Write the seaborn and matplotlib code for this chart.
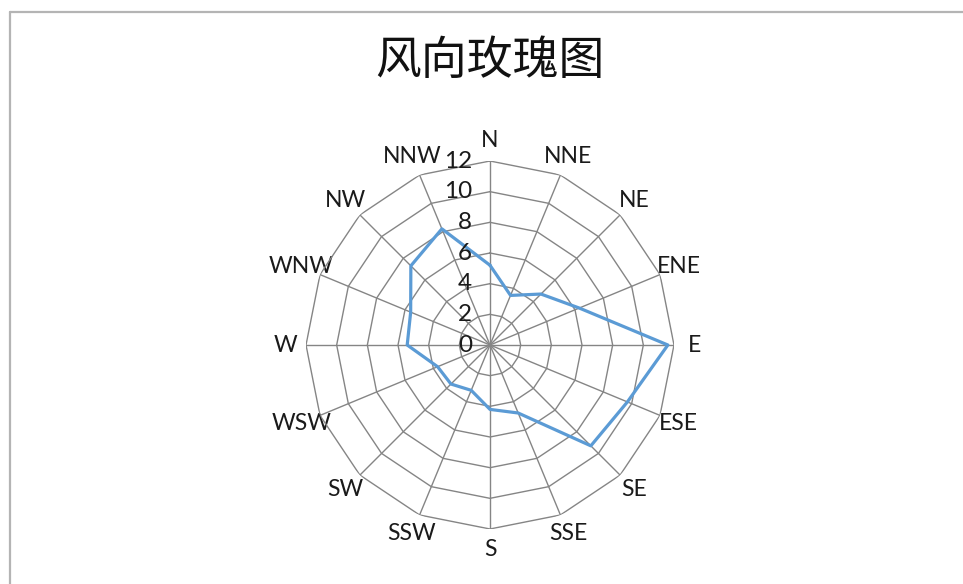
import numpy as np
import pandas as pd
import matplotlib
matplotlib.use("Agg")
import matplotlib.pyplot as plt
import seaborn as sns
from matplotlib.transforms import offset_copy
from matplotlib.lines import Line2D

# ---- data ----
directions = ['N', 'NNE', 'NE', 'ENE', 'E', 'ESE', 'SE', 'SSE',
              'S', 'SSW', 'SW', 'WSW', 'W', 'WNW', 'NW', 'NNW']
frequency = [5.2, 3.5, 4.7, 6.3, 11.6, 9.7, 9.3, 4.8,
             4.2, 3.2, 3.6, 3.7, 5.4, 5.6, 7.3, 8.2]
r_ticks = [0, 2, 4, 6, 8, 10, 12]
title = '风向玫瑰图'

sns.set_style('white')
plt.rcParams['font.family'] = ['Lato', 'Noto Sans CJK SC', 'DejaVu Sans']

W, H = 963, 584
fig = plt.figure(figsize=(W / 100, H / 100), dpi=100)
fig.patch.set_facecolor('white')

cx, cy, R = 490, 345, 184
ax = fig.add_axes([(cx - R) / W, (H - cy - R) / H, 2 * R / W, 2 * R / H],
                  projection='polar')
ax.set_facecolor('white')
ax.set_theta_zero_location('N')
ax.set_theta_direction(-1)

n = len(directions)
theta = np.deg2rad(np.arange(n) * 360.0 / n)
ax.set_ylim(0, max(r_ticks))
ax.set_xticks(theta)
ax.set_xticklabels(directions)
ax.set_yticks(r_ticks)
ax.set_yticklabels([])
ax.yaxis.grid(False)
ax.xaxis.grid(True, color='#858585', lw=1.0)
ax.spines['polar'].set_visible(False)
ax.tick_params(axis='x', pad=4, labelsize=16.5, colors='#1a1a1a')

grid_theta = np.append(theta, theta[0])
for r in r_ticks[1:]:
    ax.plot(grid_theta, [r] * (n + 1), color='#858585', lw=1.0, zorder=1)

df = pd.DataFrame({'theta': np.append(theta, 2 * np.pi),
                   'freq': frequency + [frequency[0]]})
sns.lineplot(data=df, x='theta', y='freq', sort=False, ax=ax,
             color='#5B9BD5', lw=2.3, zorder=3)
ax.set_xlabel('')
ax.set_ylabel('')

trans = offset_copy(ax.transData, fig=fig, x=-18, y=0, units='dots')
for r in r_ticks:
    ax.text(0, r, str(r), transform=trans, ha='right', va='center',
            fontsize=17.5, color='#1a1a1a', zorder=4)

fig.text(cx / W, 1 - 61 / H, title, fontsize=33, ha='center', va='center',
         family=['Noto Sans CJK SC', 'DejaVu Sans'], color='#111111')

# chart border (top and left visible)
fig.add_artist(Line2D([10 / W, 10 / W], [0, 1 - 12 / H], transform=fig.transFigure,
                      color='#b4b4b4', lw=1.6))
fig.add_artist(Line2D([10 / W, 1], [1 - 12 / H, 1 - 12 / H], transform=fig.transFigure,
                      color='#b4b4b4', lw=1.6))

fig.savefig('out.png', dpi=100, facecolor='white')
